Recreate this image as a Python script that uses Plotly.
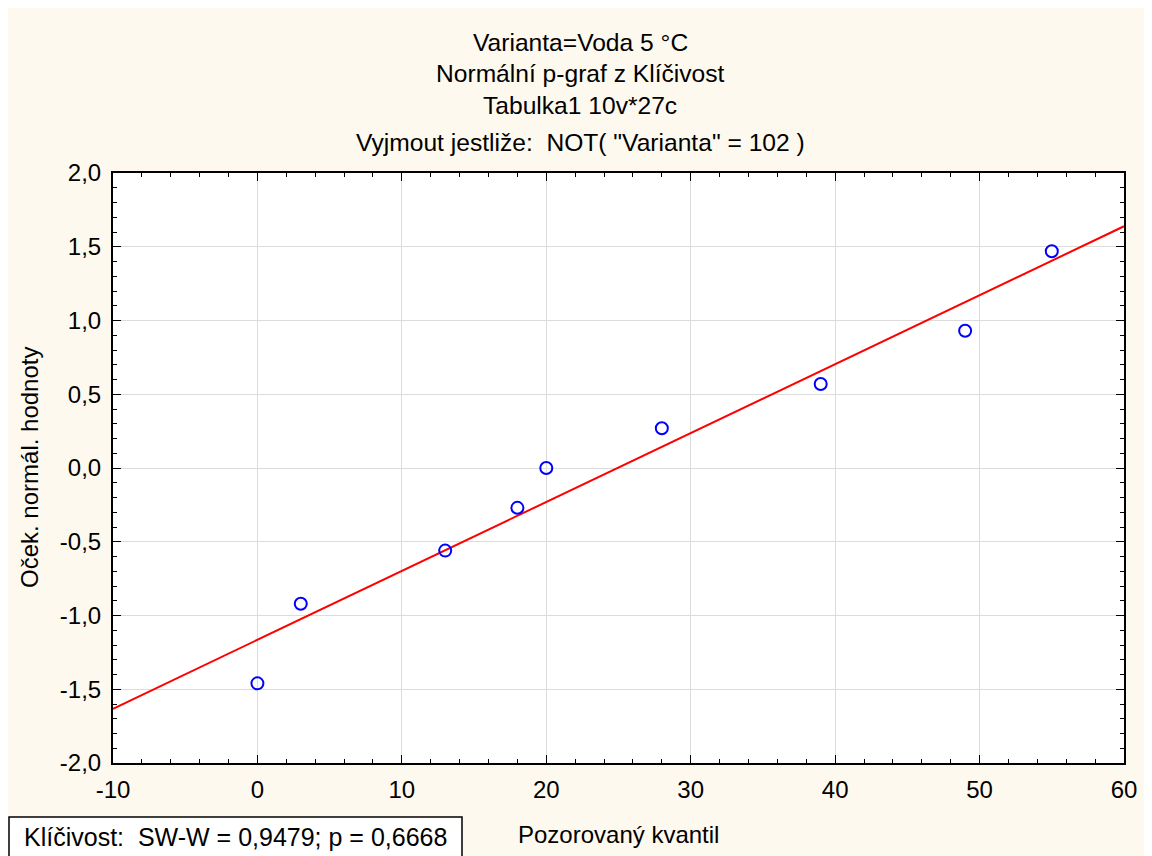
import numpy as np
import plotly.graph_objects as go

# Data
observed_quantile = [0, 3, 13, 18, 20, 28, 39, 49, 55]
expected_normal = [-1.46, -0.92, -0.56, -0.27, 0.0, 0.27, 0.57, 0.93, 1.47]
x_range = [-10, 60]
y_range = [-2.0, 2.0]
x_ticks = [-10, 0, 10, 20, 30, 40, 50, 60]
y_ticks = [-2.0, -1.5, -1.0, -0.5, 0.0, 0.5, 1.0, 1.5, 2.0]
x_tick_labels = ["-10", "0", "10", "20", "30", "40", "50", "60"]
y_tick_labels = ["-2,0", "-1,5", "-1,0", "-0,5", "0,0", "0,5", "1,0", "1,5", "2,0"]
title_lines = [
    "Varianta=Voda 5 °C",
    "Normální p-graf z Klíčivost",
    "Tabulka1 10v*27c",
    "Vyjmout jestliže:\u00a0\u00a0NOT( \"Varianta\" = 102 )",
]
x_title = "Pozorovaný kvantil"
y_title = "Oček. normál. hodnoty"
stats_text = "Klíčivost:\u00a0\u00a0SW-W = 0,9479; p = 0,6668"

# The page body has an 8px margin; the figure starts at (8, 8) on the page.
OFF = 8
W, H = 1152 - OFF, 856 - OFF
L, R, T, B = 105, 28, 165, 93
pw, ph = W - L - R, H - T - B


def px(page_x):
    return (page_x - OFF - L) / pw


def py(page_y):
    return (T + ph - (page_y - OFF)) / ph


slope, intercept = np.polyfit(observed_quantile, expected_normal, 1)
fit_x = np.array(x_range, dtype=float)
fit_y = intercept + slope * fit_x

FONT = "Liberation Sans, Arial, sans-serif"
FS = 24
CREAM = "#FEF9EE"

fig = go.Figure()
fig.add_trace(go.Scatter(x=fit_x, y=fit_y, mode="lines",
                         line=dict(color="#FF0000", width=2), showlegend=False))
fig.add_trace(go.Scatter(x=observed_quantile, y=expected_normal, mode="markers",
                         marker=dict(symbol="circle-open", size=12, color="#0000FF",
                                     line=dict(width=2, color="#0000FF")),
                         showlegend=False))

axis_common = dict(
    showline=True, linecolor="black", linewidth=2, mirror="allticks",
    ticks="inside", ticklen=8, tickwidth=1, tickcolor="black",
    showgrid=True, gridcolor="#DCDCDC", gridwidth=1, zeroline=False,
    tickfont=dict(family=FONT, size=FS, color="black"),
    tickmode="array",
)

fig.update_xaxes(range=x_range, tickvals=x_ticks, ticktext=x_tick_labels, ticklabelstandoff=4,
                 minor=dict(dtick=2, tick0=0, ticks="inside", ticklen=4, tickcolor="black", showgrid=False),
                 **axis_common)
fig.update_yaxes(range=y_range, tickvals=y_ticks, ticktext=y_tick_labels, ticklabelstandoff=5,
                 minor=dict(dtick=0.1, tick0=0, ticks="inside", ticklen=4, tickcolor="black", showgrid=False),
                 **axis_common)

annotations = []
title_y = [42, 73, 106, 143]
for text, yy in zip(title_lines, title_y):
    annotations.append(dict(text=text, x=px(580), y=py(yy), xref="paper", yref="paper",
                            xanchor="center", yanchor="middle", showarrow=False,
                            font=dict(family=FONT, size=24.6, color="black")))
annotations.append(dict(text=x_title, x=px(618), y=py(834), xref="paper", yref="paper",
                        xanchor="center", yanchor="middle", showarrow=False,
                        font=dict(family=FONT, size=FS, color="black")))
annotations.append(dict(text=y_title, x=px(29), y=py(468), xref="paper", yref="paper",
                        xanchor="center", yanchor="middle", showarrow=False, textangle=-90,
                        font=dict(family=FONT, size=FS, color="black")))
annotations.append(dict(text=stats_text, x=px(22), y=py(837), xref="paper", yref="paper",
                        xanchor="left", yanchor="middle", showarrow=False,
                        font=dict(family=FONT, size=25, color="black")))

shapes = [
    # statistics box
    dict(type="rect", xref="paper", yref="paper", x0=px(9), x1=px(462), y0=py(817), y1=py(880),
         fillcolor="white", line=dict(width=1.5, color="black"), layer="below"),
]

fig.update_layout(
    width=W, height=H,
    margin=dict(l=L, r=R, t=T, b=B, pad=0),
    paper_bgcolor=CREAM, plot_bgcolor="white",
    separators=", ",
    annotations=annotations, shapes=shapes,
    showlegend=False,
)

fig.write_html("out.html")
